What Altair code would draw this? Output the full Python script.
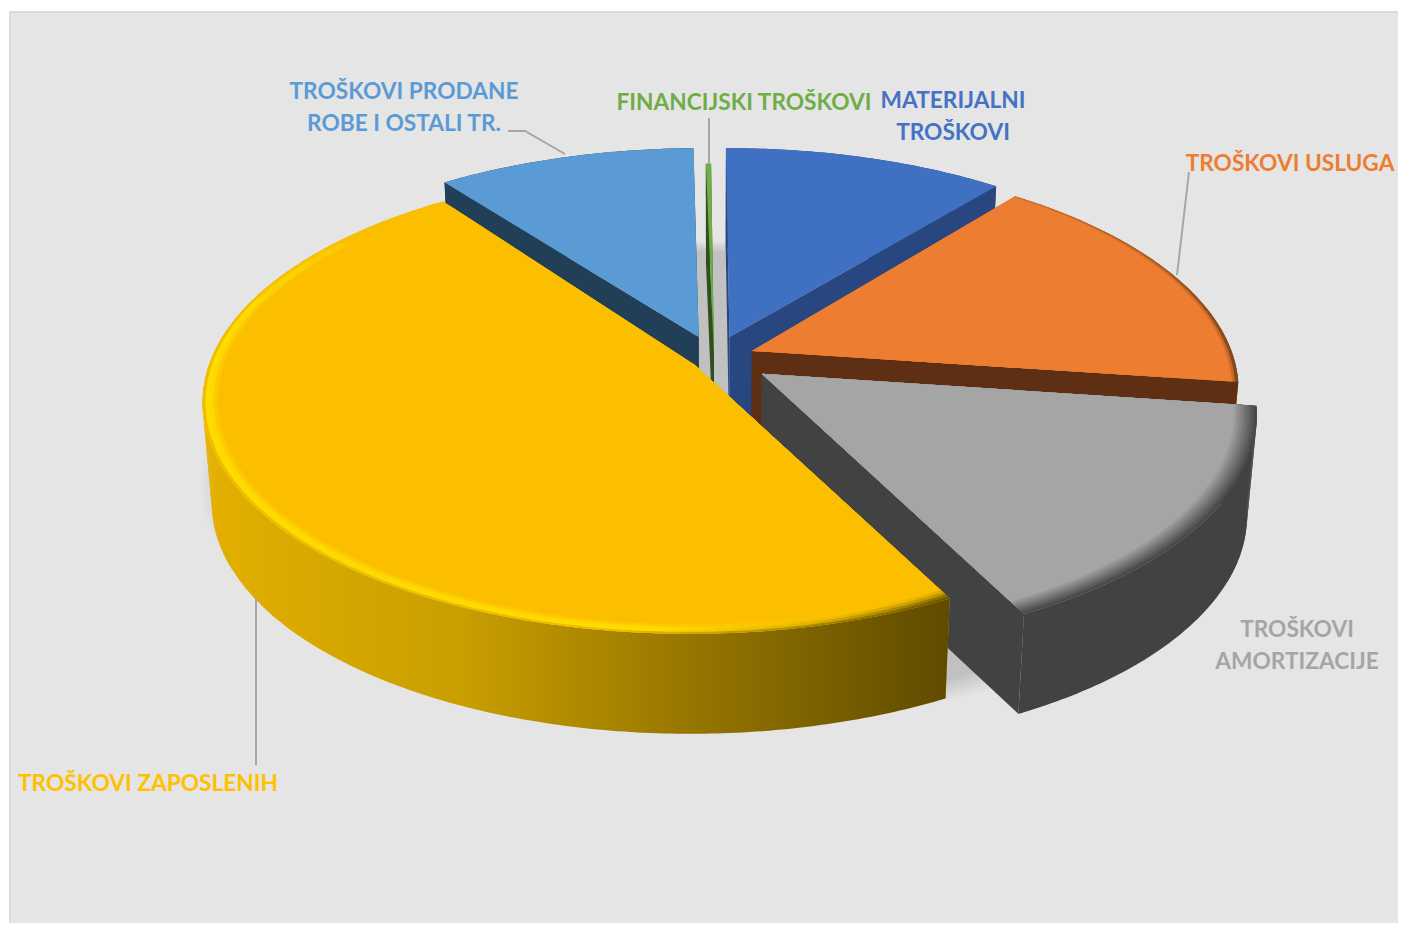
import altair as alt
import numpy as np
import pandas as pd

# ---- chart values (share of total costs, %) ----
names = ["MATERIJALNI TROŠKOVI", "TROŠKOVI USLUGA", "TROŠKOVI AMORTIZACIJE",
         "TROŠKOVI ZAPOSLENIH", "TROŠKOVI PRODANE ROBE I OSTALI TR.", "FINANCIJSKI TROŠKOVI"]
shares = [11.0, 16.4, 15.2, 47.6, 9.6, 0.2]
explode = [0.10, 0.085, 0.12, 0.05, 0.10, 0.0]
top_colors = ["#4070C2", "#ED7D31", "#A5A5A5", "#FBBF00", "#5B9BD5", "#70AD47"]
face_colors = ["#284680", "#5E2F12", "#424242", "#C99E00", "#213F57", "#2F4F1C"]

label_lines = [["MATERIJALNI", "TROŠKOVI"], ["TROŠKOVI USLUGA"], ["TROŠKOVI", "AMORTIZACIJE"],
               ["TROŠKOVI ZAPOSLENIH"], ["TROŠKOVI PRODANE", "ROBE I OSTALI TR."], ["FINANCIJSKI TROŠKOVI"]]
label_colors = ["#4472C4", "#ED7D31", "#A5A5A5", "#FFC000", "#5B9BD5", "#70AD47"]

# ---- layout (page-pixel space) ----
label_anchor = [(953, 101), (1290, 164), (1297, 630), (148, 784), (404, 92), (744, 103)]
line_gap = 32
leaders = [[(508, 131), (525, 131), (565, 154)], [(709, 118), (709, 163)],
           [(1189, 172), (1177, 275)], [(256, 598), (256, 765)]]
X0, Y0, A, B, K, DEPTH, LEAN, ROT = 714, 358, 482, 225, 0.1585, 100, 0.018, -0.8
# perspective fit: small angular trims of each slice's drawn start and end (degrees)
trim_start = [0.6, 0.0, 0.0, 0.0, -1.2, 0.4]
trim_end = [0.5, 0.0, 0.9, 0.0, 0.5, 0.4]
W, H = 1390, 915
sx = alt.Scale(domain=[8, 1398], nice=False, zero=False)
sy = alt.Scale(domain=[923, 8], nice=False, zero=False)


def proj(u, v):
    d = 1 - K * v
    return X0 + A * u / d, Y0 + B * v / d


def drop(p):
    return (p[0] - (p[0] - X0) * LEAN, p[1] + DEPTH)


def uv(deg, r=1.0):
    t = np.radians(deg)
    return r * np.sin(t), -r * np.cos(t)


def arc(a0, a1, bis, r=1.0):
    n = max(3, int(abs(a1 - a0) * 1.5))
    return [proj(uv(a, r)[0] + bis[0], uv(a, r)[1] + bis[1]) for a in np.linspace(a0, a1, n)]


layers = []


def poly(points, fill, opacity=1.0):
    df = pd.DataFrame(points, columns=["x", "y"])
    df["i"] = range(len(df))
    layers.append(alt.Chart(df).mark_line(fill=fill, fillOpacity=opacity, strokeOpacity=0).encode(
        x=alt.X("x:Q", scale=sx, axis=None),
        y=alt.Y("y:Q", scale=sy, axis=None),
        order="i:Q"))


def grad(stops):
    return alt.LinearGradient(
        gradient="linear", x1=0, y1=0, x2=1, y2=0,
        stops=[alt.GradientStop(offset=o, color=c) for o, c in stops])


def mix(c1, c2, t):
    a = [int(c1[j:j + 2], 16) for j in (1, 3, 5)]
    b = [int(c2[j:j + 2], 16) for j in (1, 3, 5)]
    return "#" + "".join(f"{round(p + (q - p) * t):02X}" for p, q in zip(a, b))


# background panel
layers.append(alt.Chart(pd.DataFrame({"x": [10], "x2": [1402], "y": [12], "y2": [930]}))
              .mark_rect(fill="#E5E5E5", stroke="#DADADA", strokeWidth=2)
              .encode(x=alt.X("x:Q", scale=sx, axis=None), x2="x2:Q",
                      y=alt.Y("y:Q", scale=sy, axis=None), y2="y2:Q"))

# soft floor shadow
for r in np.linspace(1.05, 0.99, 12):
    pts = [proj(*uv(a, r)) for a in np.linspace(0, 360, 180)]
    poly([(x, y + 86) for x, y in pts], "#000000", 0.013)

# slices
angles = np.cumsum([0] + [s * 3.6 for s in shares]) + ROT
paint_order = [5, 4, 0, 1, 2, 3]
for i in paint_order:
    bis = uv((angles[i] + angles[i + 1]) / 2, explode[i])
    a0, a1 = angles[i] + trim_start[i], angles[i + 1] + trim_end[i]
    apex = proj(*bis)
    top = arc(a0, a1, bis)
    bot = [drop(p) for p in top]
    poly([apex, top[0], bot[0], drop(apex)], face_colors[i])
    poly([apex, top[-1], bot[-1], drop(apex)], face_colors[i])
    if i in (2, 3):
        # fill the silhouette between the rim and the floor outline at the widest point
        xs = [p[0] for p in top]
        k = int(np.argmin(xs)) if i == 3 else int(np.argmax(xs))
        c = "#E4B000" if i == 3 else face_colors[i]
        for j in range(max(0, k - 24), min(len(top) - 1, k + 24)):
            poly([top[j], top[j + 1], bot[j + 1], bot[j]], c)
    if i == 3:
        wall = grad([(0, "#E4B000"), (0.35, "#C89E00"), (0.7, "#8F7000"), (1, "#5F4B00")])
    else:
        wall = face_colors[i]
    poly(top + bot[::-1], wall)
    if i == 3:
        poly([apex] + top, top_colors[i])
        bands = [
            (1.0, grad([(0, "#F0BE00"), (0.55, "#EDBC00"), (0.8, "#B08A00"), (1, "#6A5400")])),
            (0.994, grad([(0, "#FFDC00"), (0.6, "#FFDC00"), (0.82, "#E0B000"), (1, "#8A6D00")])),
            (0.986, grad([(0, "#FFD800"), (0.6, "#FFD800"), (0.85, "#F0BA00"), (1, "#B99400")])),
            (0.978, grad([(0, "#FDCA00"), (0.6, "#FDCA00"), (0.9, "#FBBF00"), (1, "#E0AC00")])),
        ]
        for stop, op in [(306, 0.3), (298, 0.45), (288, 1.0)]:
            for r, c in bands:
                poly([apex] + arc(a0, stop, bis, r), c, op)
        poly([apex] + arc(a0, a1, bis, 0.97), top_colors[i])
    elif i == 2:
        for r in np.linspace(1.0, 0.955, 12):
            t = (1.0 - r) / 0.045
            poly([apex] + arc(a0, a1, bis, r), mix("#474747", top_colors[i], t))
    elif i == 1:
        poly([apex] + arc(a0, a1, bis, 1.0), grad([(0, "#ED7D31"), (0.55, "#DE7329"), (0.8, "#B5621F"), (1, "#84471B")]))
        poly([apex] + arc(a0, a1, bis, 0.993), grad([(0, "#ED7D31"), (0.7, "#ED7D31"), (1, "#C96A28")]))
        poly([apex] + arc(a0, a1, bis, 0.987), top_colors[i])
    else:
        poly([apex] + top, top_colors[i])

# leader lines
for seg in leaders:
    df = pd.DataFrame(seg, columns=["x", "y"])
    df["i"] = range(len(df))
    layers.append(alt.Chart(df).mark_line(color="#A6A6A6", strokeWidth=2).encode(
        x=alt.X("x:Q", scale=sx, axis=None), y=alt.Y("y:Q", scale=sy, axis=None), order="i:Q"))

# labels
for lines, (lx, ly), c in zip(label_lines, label_anchor, label_colors):
    df = pd.DataFrame({"t": lines, "x": [lx] * len(lines), "y": [ly + n * line_gap for n in range(len(lines))]})
    layers.append(alt.Chart(df).mark_text(font="Lato", fontWeight="bold", fontSize=22.7, color=c,
                                          align="center", baseline="middle").encode(
        x=alt.X("x:Q", scale=sx, axis=None), y=alt.Y("y:Q", scale=sy, axis=None), text="t:N"))

chart = alt.layer(*layers).properties(width=W, height=H, padding=0, background="#FFFFFF",
                                      autosize=alt.AutoSizeParams(type="none")
                                      ).configure_view(stroke=None)
chart.save("out.html", embed_options={"renderer": "svg", "actions": False})
